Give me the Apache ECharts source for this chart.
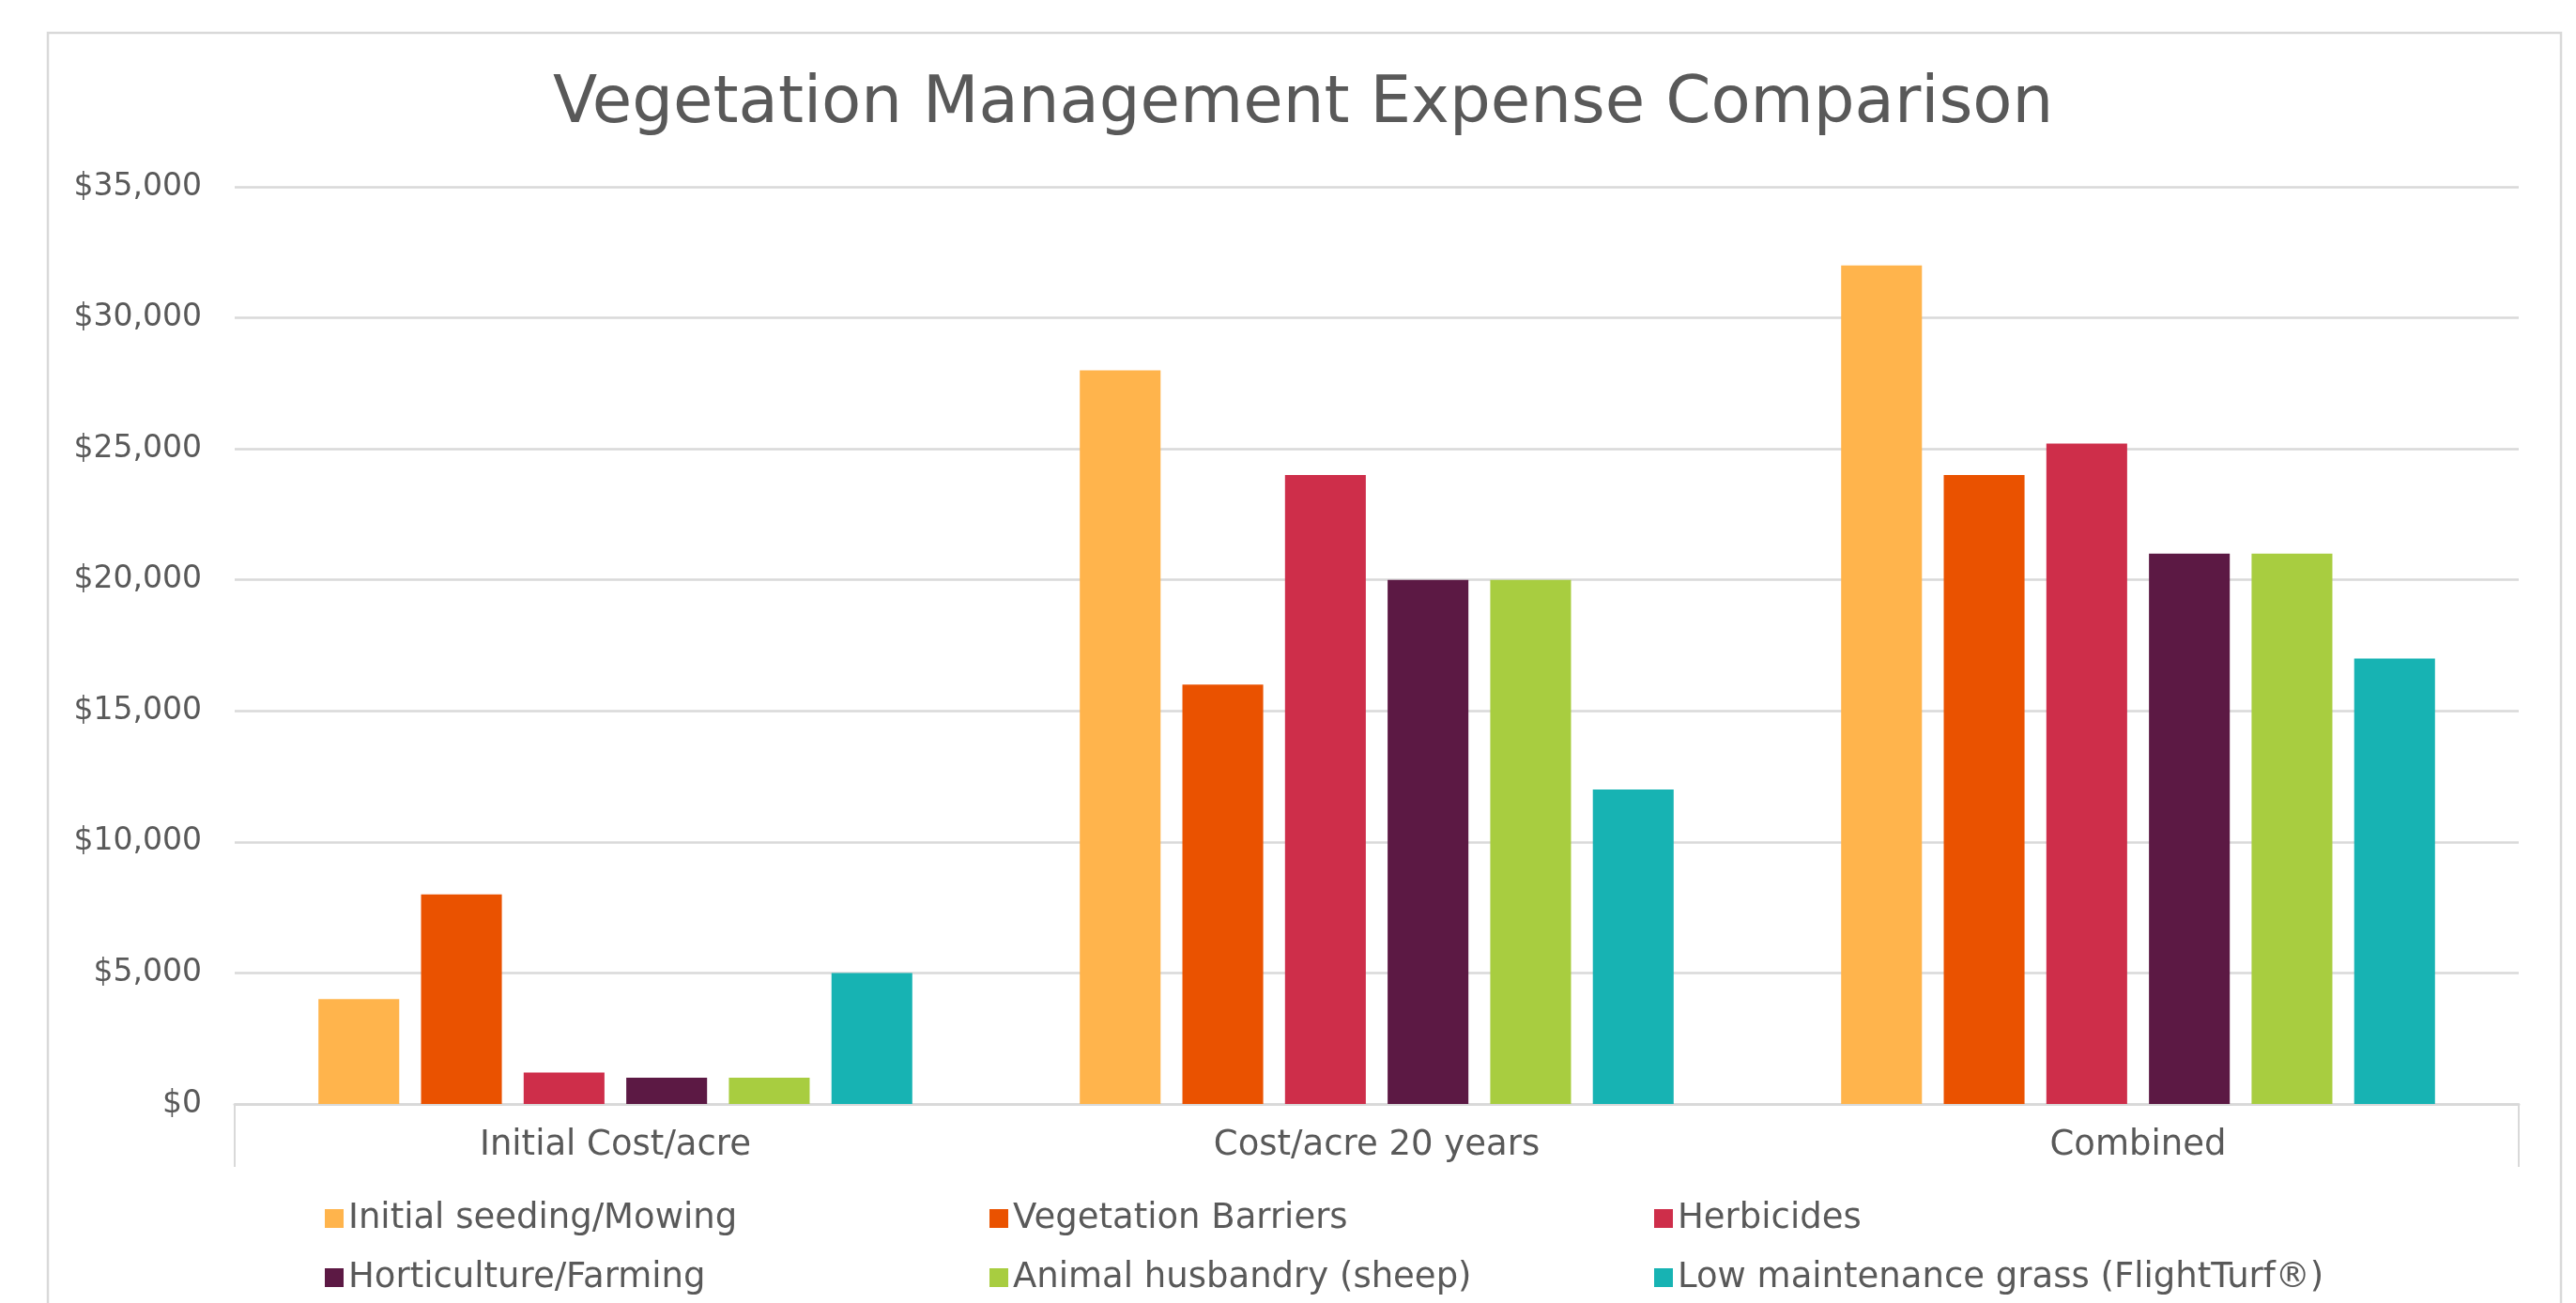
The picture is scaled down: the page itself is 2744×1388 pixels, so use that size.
<!DOCTYPE html>
<html>
    <head>
        <meta http-equiv="Content-Type" content="text/html; charset=utf-8" />
        <title>vegetation-expense</title>
        <script type="text/javascript" src="https://cdn.jsdelivr.net/npm/echarts@6/dist/echarts.min.js"></script>
        <style>
            html, body { margin: 0; padding: 0; background: #fff; }
        </style>
    </head>
    <body>
        <div style="width:2744px;height:1388px;" id="chart"></div>
        <script type="text/javascript">
            // data
            var categories = ['Initial Cost/acre', 'Cost/acre 20 years', 'Combined'];
            var seriesNames = [
                'Initial seeding/Mowing',
                'Vegetation Barriers',
                'Herbicides',
                'Horticulture/Farming',
                'Animal husbandry (sheep)',
                'Low maintenance grass (FlightTurf®)'
            ];
            var seeding = [4000, 28000, 32000];
            var barriers = [8000, 16000, 24000];
            var herbicides = [1200, 24000, 25200];
            var horticulture = [1000, 20000, 21000];
            var sheep = [1000, 20000, 21000];
            var lowGrass = [5000, 12000, 17000];
            var values = [seeding, barriers, herbicides, horticulture, sheep, lowGrass];
            var colors = ['#FFB44C', '#EA5200', '#CE2E4A', '#5C1944', '#A8CD40', '#17B3B3'];

            var font = 'DejaVu Sans';
            var textColor = '#595959';
            var lineColor = '#D9D9D9';

            var myChart = echarts.init(document.getElementById('chart'));

            var series = seriesNames.map(function (name, i) {
                return {
                    name: name,
                    type: 'bar',
                    data: values[i],
                    barGap: '27%',
                    barCategoryGap: '22%',
                    itemStyle: { color: colors[i] },
                    animation: false
                };
            });

            var option = {
                backgroundColor: '#fff',
                animation: false,
                title: {
                    text: 'Vegetation Management Expense Comparison',
                    left: 584,
                    top: 73,
                    textStyle: {
                        fontFamily: font,
                        fontWeight: 'normal',
                        fontSize: 69,
                        color: textColor
                    }
                },
                graphic: [{
                    type: 'rect',
                    shape: { x: 51, y: 35, width: 2677, height: 1400 },
                    style: { fill: 'none', stroke: lineColor, lineWidth: 2.5 },
                    silent: true
                }],
                grid: {
                    left: 250,
                    right: 61,
                    top: 199,
                    bottom: 212,
                    containLabel: false
                },
                legend: {
                    data: seriesNames,
                    left: 341,
                    top: 1273,
                    width: 2200,
                    itemWidth: 20,
                    itemHeight: 20,
                    itemGap: 23,
                    icon: 'rect',
                    formatter: function (name) { return '{a|' + name + '}'; },
                    textStyle: {
                        fontFamily: font,
                        fontSize: 37,
                        color: textColor,
                        rich: {
                            a: {
                                fontFamily: font,
                                fontSize: 37,
                                color: textColor,
                                width: 660,
                                height: 40,
                                lineHeight: 40
                            }
                        }
                    }
                },
                xAxis: {
                    type: 'category',
                    data: categories,
                    axisLine: { lineStyle: { color: lineColor, width: 3 } },
                    axisTick: {
                        show: true,
                        length: 67,
                        interval: function (index) { return index === 0; },
                        lineStyle: { color: lineColor, width: 2 }
                    },
                    axisLabel: {
                        margin: 26,
                        fontFamily: font,
                        fontSize: 37,
                        color: textColor
                    }
                },
                yAxis: {
                    type: 'value',
                    min: 0,
                    max: 35000,
                    interval: 5000,
                    axisLine: { show: false },
                    axisTick: { show: false },
                    splitLine: { lineStyle: { color: lineColor, width: 2.5 } },
                    axisLabel: {
                        margin: 35,
                        fontFamily: font,
                        fontSize: 33,
                        color: textColor,
                        formatter: function (v) {
                            return '$' + v.toString().replace(/\B(?=(\d{3})+(?!\d))/g, ',');
                        }
                    }
                },
                series: series
            };

            myChart.setOption(option);
        </script>
    </body>
</html>
